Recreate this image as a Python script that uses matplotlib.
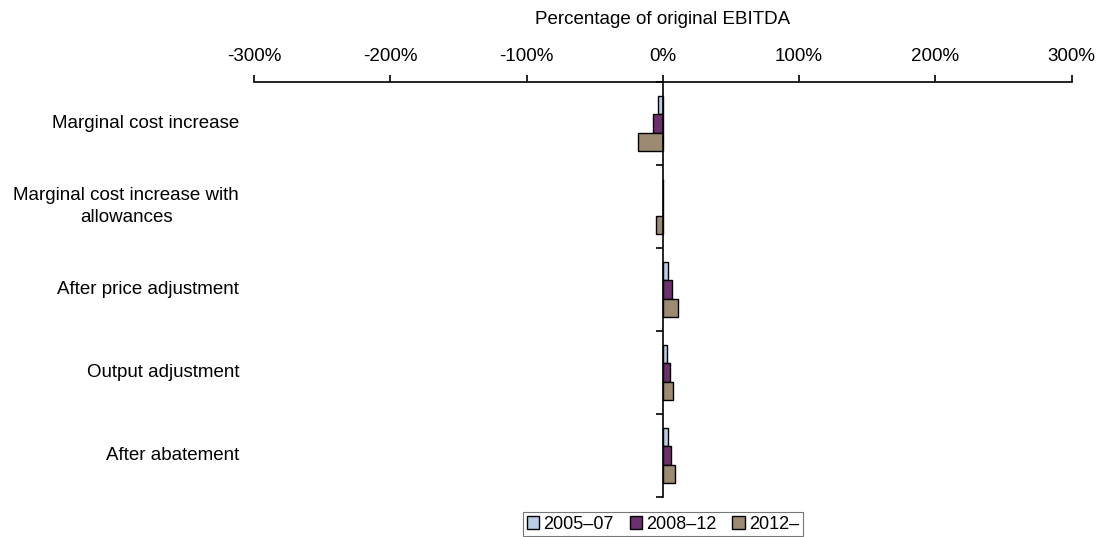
import numpy as np
import matplotlib.pyplot as plt
from matplotlib.ticker import FuncFormatter

plt.rcParams['font.family'] = ['Liberation Sans', 'DejaVu Sans']

categories = ['Marginal cost increase',
              'Marginal cost increase with\nallowances',
              'After price adjustment',
              'Output adjustment',
              'After abatement']
series = ['2005\u201307', '2008\u201312', '2012\u2013']
v_2005_07 = [-3.5, 0.0, 4.0, 3.3, 4.0]
v_2008_12 = [-7.0, 0.0, 6.5, 5.0, 6.0]
v_2012_on = [-18.0, -5.0, 11.0, 7.5, 9.0]
colors = ['#B9CDE5', '#6E2F6E', '#9C8A73']

fig = plt.figure(figsize=(10.98, 5.37), dpi=100)
ax = fig.add_axes([0.2313, 0.0745, 0.9760 - 0.2313, 0.8473 - 0.0745])

y = np.arange(len(categories))
h = 0.22
for i, (vals, c, name) in enumerate(zip([v_2005_07, v_2008_12, v_2012_on], colors, series)):
    ax.barh(y + (i - 1) * h, vals, height=h, color=c, edgecolor='black',
            linewidth=1, label=name)

ax.set_xlim(-300, 300)
ax.set_ylim(len(categories) - 0.5, -0.5)

# top axis with percentage ticks
ax.xaxis.tick_top()
ax.xaxis.set_label_position('top')
ax.set_xticks(np.arange(-300, 301, 100))
ax.xaxis.set_major_formatter(FuncFormatter(lambda v, p: '%d%%' % v))
ax.tick_params(axis='x', direction='out', length=5, width=1.2, labelsize=13.5, pad=7)
ax.set_xlabel('Percentage of original EBITDA', fontsize=13.5, labelpad=17.5)

# vertical axis at zero, ticks on category boundaries
ax.spines['left'].set_position(('data', 0))
ax.spines['right'].set_visible(False)
ax.spines['bottom'].set_visible(False)
ax.spines['left'].set_linewidth(1.2)
ax.spines['top'].set_linewidth(1.2)
ax.set_yticks(np.arange(-0.5, len(categories), 1.0))
ax.set_yticklabels([])
ax.tick_params(axis='y', direction='out', length=5, width=1.2)

for yi, name in zip(y, categories):
    ax.text(-0.018, yi, name, transform=ax.get_yaxis_transform(),
            ha='right', va='center', multialignment='center', fontsize=13.5,
            linespacing=1.4)

leg = fig.legend(loc='upper center', bbox_to_anchor=(0.6037, 0.0466), ncol=3,
                 fontsize=13, frameon=True, fancybox=False, handlelength=0.7,
                 handleheight=0.7, handletextpad=0.2, columnspacing=0.9,
                 borderpad=0.2, borderaxespad=0)
leg.get_frame().set_edgecolor('#555555')
leg.get_frame().set_linewidth(0.8)

fig.savefig('out.png', dpi=100)
